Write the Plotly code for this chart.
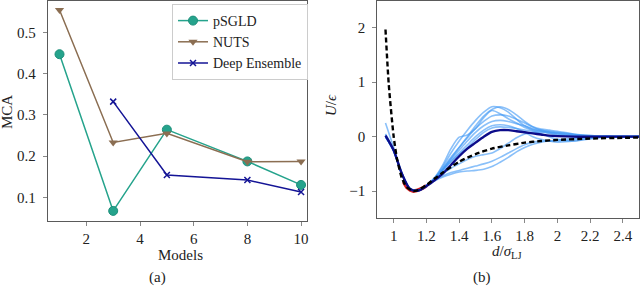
import plotly.graph_objects as go

# ---------------- panel (a) data ----------------
models = [1, 3, 5, 8, 10]
psgld = [0.447, 0.067, 0.264, 0.187, 0.130]
nuts = [0.554, 0.233, 0.255, 0.186, 0.187]
ens_models = [3, 5, 8, 10]
deep_ensemble = [0.332, 0.154, 0.142, 0.113]

# ---------------- panel (b) data ----------------
d_grid = [0.95, 1.0, 1.05, 1.1, 1.15, 1.2, 1.25, 1.3, 1.35, 1.4, 1.45, 1.5, 1.55,
          1.6, 1.65, 1.7, 1.75, 1.8, 1.85, 1.9, 1.95, 2.0, 2.1, 2.2, 2.3, 2.4, 2.5]
sample_1 = [0.25, -0.2, -0.66, -0.95, -0.99, -0.9, -0.75, -0.55, -0.3, -0.08, 0.12, 0.3, 0.45,
            0.55, 0.53, 0.45, 0.32, 0.2, 0.13, 0.1, 0.07, 0.05, 0.02, 0.0, 0.0, 0.0, 0.0]
sample_2 = [0.05, -0.25, -0.68, -0.96, -0.99, -0.9, -0.77, -0.6, -0.4, -0.2, 0.0, 0.2, 0.38,
            0.5, 0.55, 0.5, 0.4, 0.28, 0.18, 0.12, 0.1, 0.08, 0.04, 0.01, 0.0, 0.0, 0.0]
sample_3 = [0.0, -0.27, -0.69, -0.96, -0.99, -0.9, -0.76, -0.52, -0.22, -0.01, 0.03, 0.15, 0.35,
            0.48, 0.42, 0.33, 0.25, 0.17, 0.12, 0.1, 0.08, 0.07, 0.04, 0.02, 0.01, 0.0, 0.0]
sample_4 = [0.0, -0.26, -0.68, -0.96, -0.99, -0.9, -0.77, -0.58, -0.38, -0.2, -0.02, 0.15, 0.28,
            0.38, 0.4, 0.38, 0.32, 0.25, 0.18, 0.14, 0.12, 0.1, 0.05, 0.02, 0.01, 0.0, 0.0]
sample_5 = [0.02, -0.25, -0.68, -0.96, -0.99, -0.9, -0.78, -0.6, -0.42, -0.25, -0.08, 0.08, 0.2,
            0.28, 0.3, 0.28, 0.24, 0.2, 0.15, 0.12, 0.09, 0.06, 0.02, 0.0, 0.0, 0.0, 0.0]
sample_6 = [0.0, -0.26, -0.68, -0.96, -0.99, -0.9, -0.78, -0.62, -0.45, -0.3, -0.15, 0.0, 0.12,
            0.2, 0.22, 0.2, 0.15, 0.08, 0.0, -0.05, -0.08, -0.1, -0.08, -0.03, 0.0, 0.0, 0.0]
sample_7 = [0.03, -0.24, -0.68, -0.96, -0.99, -0.9, -0.78, -0.62, -0.46, -0.32, -0.2, -0.05, 0.08,
            0.16, 0.18, 0.17, 0.15, 0.12, 0.1, 0.06, 0.0, -0.05, -0.08, -0.04, -0.01, 0.0, 0.0]
sample_8 = [0.0, -0.26, -0.68, -0.96, -0.99, -0.9, -0.8, -0.68, -0.58, -0.5, -0.42, -0.36, -0.33,
            -0.3, -0.22, -0.12, -0.02, 0.05, 0.08, 0.08, 0.06, 0.03, 0.0, 0.0, 0.0, 0.0, 0.0]
sample_9 = [0.0, -0.26, -0.68, -0.96, -0.99, -0.9, -0.8, -0.72, -0.66, -0.62, -0.58, -0.54, -0.5,
            -0.45, -0.38, -0.3, -0.22, -0.15, -0.1, -0.08, -0.08, -0.08, -0.05, -0.02, 0.0, 0.0, 0.0]
sample_10 = [0.0, -0.26, -0.68, -0.96, -0.99, -0.9, -0.81, -0.74, -0.69, -0.65, -0.63, -0.62, -0.6,
             -0.55, -0.47, -0.38, -0.28, -0.2, -0.14, -0.1, -0.08, -0.06, -0.03, -0.01, 0.0, 0.0, 0.0]
samples = [sample_1, sample_2, sample_3, sample_4, sample_5,
           sample_6, sample_7, sample_8, sample_9, sample_10]
mean_curve = [0.02, -0.25, -0.68, -0.96, -0.99, -0.91, -0.8, -0.68, -0.52, -0.36, -0.22, -0.11, 0.0,
              0.09, 0.12, 0.12, 0.1, 0.08, 0.06, 0.04, 0.02, 0.01, 0.0, 0.0, 0.0, 0.0, 0.0]

lj_d = [0.95, 0.97, 1.0, 1.02, 1.05, 1.08, 1.12, 1.15, 1.2, 1.25, 1.3, 1.4, 1.5,
        1.6, 1.7, 1.8, 1.9, 2.0, 2.2, 2.4, 2.5]
lj_u = [1.97, 0.96, 0.0, -0.40, -0.76, -0.93, -1.0, -0.98, -0.89, -0.77, -0.66, -0.46, -0.32,
        -0.22, -0.16, -0.11, -0.08, -0.06, -0.035, -0.021, -0.016]

fit_d = [1.06, 1.08, 1.1, 1.12, 1.14, 1.16, 1.18, 1.2]
fit_u = [-0.83, -0.93, -0.98, -1.0, -0.99, -0.97, -0.94, -0.9]

FONT = "Liberation Serif"
W, H = 640, 303

fig = go.Figure()

teal = "#25a38c"
brown = "#8b6e52"
navy = "#141496"

fig.add_trace(go.Scatter(x=models, y=psgld, mode="lines+markers", name="pSGLD",
                         line=dict(color=teal, width=1.5),
                         marker=dict(symbol="circle", size=9, color=teal,
                                     line=dict(color="#1c8f7a", width=1)),
                         xaxis="x", yaxis="y"))
fig.add_trace(go.Scatter(x=models, y=nuts, mode="lines+markers", name="NUTS",
                         line=dict(color=brown, width=1.5),
                         marker=dict(symbol="triangle-down", size=8, color=brown),
                         xaxis="x", yaxis="y"))
fig.add_trace(go.Scatter(x=ens_models, y=deep_ensemble, mode="lines+markers", name="Deep Ensemble",
                         line=dict(color=navy, width=1.5),
                         marker=dict(symbol="x-thin", size=6, color=navy,
                                     line=dict(color=navy, width=1.5)),
                         xaxis="x", yaxis="y"))

# panel (b)
fig.add_trace(go.Scatter(x=fit_d, y=fit_u, mode="lines", showlegend=False,
                         line=dict(color="#d62020", width=3.5),
                         xaxis="x2", yaxis="y2"))
for s in samples:
    fig.add_trace(go.Scatter(x=d_grid, y=s, mode="lines", showlegend=False,
                             line=dict(color="rgba(60,150,245,0.6)", width=1.6,
                                       shape="spline", smoothing=0.8),
                             xaxis="x2", yaxis="y2"))
fig.add_trace(go.Scatter(x=d_grid, y=mean_curve, mode="lines", showlegend=False,
                         line=dict(color="#0c0c8a", width=2.4, shape="spline", smoothing=0.8),
                         xaxis="x2", yaxis="y2"))
fig.add_trace(go.Scatter(x=lj_d, y=lj_u, mode="lines", showlegend=False,
                         line=dict(color="black", width=2.4, dash="5px,3px",
                                   shape="spline", smoothing=0.6),
                         xaxis="x2", yaxis="y2"))

axis_common = dict(showline=True, mirror=True, linecolor="#5a5a5a", linewidth=1,
                   showgrid=False, zeroline=False, ticks="outside", ticklen=4,
                   automargin=False,
                   tickcolor="#888888", tickfont=dict(family=FONT, size=15, color="#222"))

fig.update_layout(
    template="none",
    width=W, height=H,
    margin=dict(l=0, r=0, t=0, b=0, pad=0),
    paper_bgcolor="white", plot_bgcolor="white",
    font=dict(family=FONT, size=15, color="#222"),
    xaxis=dict(domain=[47.7 / W, 306.7 / W], range=[0.56, 10.21],
               tickvals=[2, 4, 6, 8, 10], **axis_common),
    yaxis=dict(domain=[(H - 221) / H, 0.998], range=[0.0425, 0.577],
               tickvals=[0.1, 0.2, 0.3, 0.4, 0.5], ticktext=["0.1", "0.2", "0.3", "0.4", "0.5"],
               ticklabelstandoff=4, **axis_common),
    xaxis2=dict(domain=[377.3 / W, 639.3 / W], range=[0.9, 2.5], anchor="y2",
                tickvals=[1, 1.2, 1.4, 1.6, 1.8, 2, 2.2, 2.4],
                ticktext=["1", "1.2", "1.4", "1.6", "1.8", "2", "2.2", "2.4"], **axis_common),
    yaxis2=dict(domain=[(H - 218.3) / H, 0.998], range=[-1.5, 2.5], anchor="x2",
                tickvals=[-1, 0, 1, 2], ticktext=["\u22121", "0", "1", "2"],
                ticklabelstandoff=4, **axis_common),
    legend=dict(x=172 / W, y=1 - 4 / H, xanchor="left", yanchor="top",
                bgcolor="white", bordercolor="#cccccc", borderwidth=1,
                font=dict(family=FONT, size=14, color="#222"),
                tracegroupgap=0, itemwidth=30),
    showlegend=True,
)

ann = [
    dict(x=7 / W, y=1 - 112 / H, text="MCA", textangle=-90),
    dict(x=180 / W, y=1 - 255 / H, text="Models"),
    dict(x=157 / W, y=1 - 277 / H, text="(a)"),
    dict(x=331 / W, y=1 - 105 / H, text="<i>U</i>/<i>ϵ</i>", textangle=-90),
    dict(x=507 / W, y=1 - 252 / H, text="<i>d</i>/<i>σ</i><sub>LJ</sub>"),
    dict(x=482 / W, y=1 - 277 / H, text="(b)"),
]
for a in ann:
    a.update(xref="paper", yref="paper", showarrow=False, xanchor="center", yanchor="middle",
             font=dict(family=FONT, size=15, color="#222"))
fig.update_layout(annotations=ann)

fig.write_html("out.html", config={"displayModeBar": False, "staticPlot": True},
               post_script="document.body.style.margin='0';document.body.style.padding='0';"
                           "document.documentElement.style.overflow='hidden';")
